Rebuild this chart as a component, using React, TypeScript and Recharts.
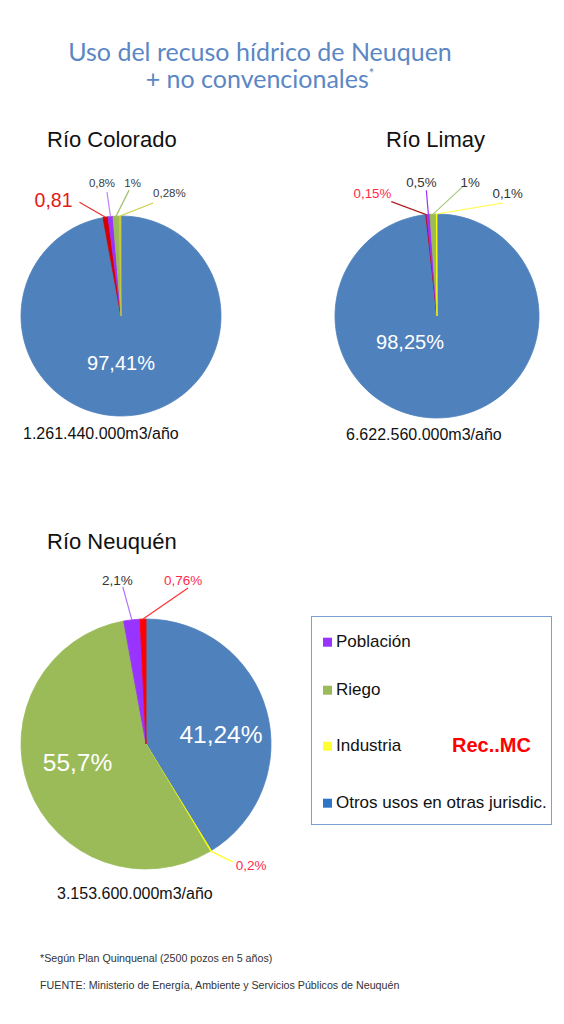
import React from 'react';
import { PieChart, Pie, Cell } from 'recharts';

// Datos (porcentajes de uso)
const coloradoNames = ['Otros usos en otras jurisdic.', 'No convencionales', 'Población', 'Riego', 'Industria'];
const coloradoValues = [97.41, 0.81, 0.8, 1, 0.28];
const coloradoLabels = ['97,41%', '0,81', '0,8%', '1%', '0,28%'];

const limayNames = ['Otros usos en otras jurisdic.', 'No convencionales', 'Población', 'Riego', 'Industria'];
const limayValues = [98.25, 0.15, 0.5, 1, 0.1];
const limayLabels = ['98,25%', '0,15%', '0,5%', '1%', '0,1%'];

const neuquenNames = ['Otros usos en otras jurisdic.', 'Industria', 'Riego', 'Población', 'No convencionales'];
const neuquenValues = [41.24, 0.2, 55.7, 2.1, 0.76];
const neuquenLabels = ['41,24%', '0,2%', '55,7%', '2,1%', '0,76%'];

const legendNames = ['Población', 'Riego', 'Industria', 'Otros usos en otras jurisdic.'];

const FONT = '"Liberation Sans", Arial, sans-serif';
const BLUE = '#4F81BD';
const GREEN = '#9BBB59';
const PURPLE = '#9933FF';

type LabelSpec =
  | { kind: 'in'; dx: number; dy: number; size: number; color: string }
  | {
      kind: 'out';
      lx: number;
      ly: number;
      tx: number;
      ty: number;
      anchor: 'start' | 'middle' | 'end';
      size: number;
      color: string;
      line: string;
    };

const RAD = Math.PI / 180;

function makeLabel(names: string[], texts: string[], specs: LabelSpec[]) {
  return (props: any) => {
    const { cx, cy, midAngle, outerRadius } = props;
    const i = typeof props.index === 'number' ? props.index : names.indexOf(props.name);
    const s = specs[i];
    const t = texts[i];
    if (!s) return null;
    if (s.kind === 'in') {
      return (
        <text x={cx + s.dx} y={cy + s.dy} textAnchor="middle" dominantBaseline="central"
          fill={s.color} fontSize={s.size} fontFamily={FONT}>
          {t}
        </text>
      );
    }
    // punto de anclaje en el borde de la porción
    const ax = cx + outerRadius * Math.cos(-midAngle * RAD);
    const ay = cy + outerRadius * Math.sin(-midAngle * RAD);
    const ex = ax + s.lx;
    const ey = ay + s.ly;
    return (
      <g>
        <line x1={ax} y1={ay} x2={ex} y2={ey} stroke={s.line} strokeWidth={1.2} />
        <text x={ex + s.tx} y={ey + s.ty} textAnchor={s.anchor} fill={s.color}
          fontSize={s.size} fontFamily={FONT}>
          {t}
        </text>
      </g>
    );
  };
}

const coloradoColors = [BLUE, '#D40000', PURPLE, GREEN, '#C8C83C'];
const coloradoSpecs: LabelSpec[] = [
  { kind: 'in', dx: 0, dy: 47, size: 20, color: '#FFFFFF' },
  { kind: 'out', lx: -26, ly: -15, tx: -7, ty: 5, anchor: 'end', size: 19.5, color: '#E01B1B', line: '#E03030' },
  { kind: 'out', lx: -3.5, ly: -24.5, tx: -5, ty: -5, anchor: 'middle', size: 11.5, color: '#404040', line: '#C080FF' },
  { kind: 'out', lx: 13, ly: -26, tx: 3.5, ty: -3, anchor: 'middle', size: 11.5, color: '#404040', line: '#A0C070' },
  { kind: 'out', lx: 33, ly: -13, tx: 0, ty: -6, anchor: 'start', size: 11.5, color: '#404040', line: '#CCCC44' },
];

const limayColors = [BLUE, '#C00000', PURPLE, GREEN, '#FFFF00'];
const limaySpecs: LabelSpec[] = [
  { kind: 'in', dx: -27, dy: 25.5, size: 20, color: '#FFFFFF' },
  { kind: 'out', lx: -35, ly: -13, tx: 0, ty: -4, anchor: 'end', size: 13.3, color: '#FF2A4A', line: '#B02020' },
  { kind: 'out', lx: -2, ly: -24, tx: -5, ty: -3, anchor: 'middle', size: 13.3, color: '#333333', line: PURPLE },
  { kind: 'out', lx: 29, ly: -27, tx: 8, ty: 0, anchor: 'middle', size: 13.3, color: '#333333', line: '#A8C880' },
  { kind: 'out', lx: 66, ly: -11, tx: 5, ty: -5, anchor: 'middle', size: 13.3, color: '#333333', line: '#FFFF40' },
];

const neuquenColors = [BLUE, '#FFFF00', GREEN, PURPLE, '#FF0000'];
const neuquenSpecs: LabelSpec[] = [
  { kind: 'in', dx: 75, dy: -9.5, size: 24.5, color: '#FFFFFF' },
  { kind: 'out', lx: 22, ly: 11, tx: 3, ty: 8, anchor: 'start', size: 13.5, color: '#FF2A4A', line: '#FFFF00' },
  { kind: 'in', dx: -68.5, dy: 18.5, size: 24.5, color: '#FFFFFF' },
  { kind: 'out', lx: -9, ly: -33, tx: -5.5, ty: -2, anchor: 'middle', size: 13.5, color: '#333333', line: '#B070FF' },
  { kind: 'out', lx: 45, ly: -31, tx: -5, ty: -3, anchor: 'middle', size: 13.5, color: '#FF2A4A', line: '#FF3030' },
];

const legendColors = [PURPLE, GREEN, '#FFFF33', '#2E75C8'];
const legendBaselines = [646.5, 694.5, 750.5, 807.5];

function RiverPie({ names, values, texts, colors, specs, left, top, width, height, cx, cy, r }: {
  names: string[]; values: number[]; texts: string[]; colors: string[]; specs: LabelSpec[];
  left: number; top: number; width: number; height: number; cx: number; cy: number; r: number;
}) {
  const data = names.map((name, i) => ({ name, value: values[i] }));
  return (
    <div style={{ position: 'absolute', left, top, width, height }}>
      <PieChart width={width} height={height} margin={{ top: 0, right: 0, bottom: 0, left: 0 }}>
        <Pie
          data={data}
          dataKey="value"
          nameKey="name"
          cx={cx}
          cy={cy}
          outerRadius={r}
          startAngle={90}
          endAngle={-270}
          isAnimationActive={false}
          labelLine={false}
          label={makeLabel(names, texts, specs)}
        >
          {data.map((d, i) => (
            <Cell key={d.name} fill={colors[i]} stroke={colors[i]} strokeWidth={0.8} />
          ))}
        </Pie>
      </PieChart>
    </div>
  );
}

export default function App() {
  return (
    <div style={{ position: 'absolute', left: 0, top: 0, width: 564, height: 1024, background: '#fff', fontFamily: FONT }}>
      <svg width={564} height={1024} style={{ position: 'absolute', left: 0, top: 0 }}>
        <text x={260} y={61} textAnchor="middle" fill="#5B87C4" fontSize={25} fontFamily="Lato, 'Open Sans', sans-serif">
          Uso del recuso hídrico de Neuquen
        </text>
        <text x={260} y={88} textAnchor="middle" fill="#5B87C4" fontSize={25} fontFamily="Lato, 'Open Sans', sans-serif">
          + no convencionales<tspan fontSize={13} dy={-10}>*</tspan>
        </text>

        <text x={47} y={147} fontSize={22} fill="#111">Río Colorado</text>
        <text x={386} y={147} fontSize={22} fill="#111">Río Limay</text>
        <text x={47} y={549} fontSize={22} fill="#111">Río Neuquén</text>

        <text x={23} y={439} fontSize={16} fill="#111">1.261.440.000m3/año</text>
        <text x={346} y={440} fontSize={16} fill="#111">6.622.560.000m3/año</text>
        <text x={57} y={899} fontSize={16} fill="#111">3.153.600.000m3/año</text>

        <rect x={311.5} y={616.5} width={240} height={208} fill="#fff" stroke="#7A9FD0" strokeWidth={1} />
        {legendNames.map((n, i) => (
          <g key={n}>
            <rect x={323} y={legendBaselines[i] - 8.8} width={9} height={9} fill={legendColors[i]} />
            <text x={336} y={legendBaselines[i]} fontSize={17} fill="#111">{n}</text>
          </g>
        ))}
        <text x={452} y={752} fontSize={20} fontWeight="bold" fill="#FF0000">Rec..MC</text>

        <text x={40} y={962} fontSize={10.7} fill="#333">*Según Plan Quinquenal (2500 pozos en 5 años)</text>
        <text x={40} y={989} fontSize={10.7} fill="#333">FUENTE: Ministerio de Energía, Ambiente y Servicios Públicos de Neuquén</text>
      </svg>

      <RiverPie names={coloradoNames} values={coloradoValues} texts={coloradoLabels} colors={coloradoColors}
        specs={coloradoSpecs} left={0} top={155} width={260} height={265} cx={121} cy={161} r={100} />
      <RiverPie names={limayNames} values={limayValues} texts={limayLabels} colors={limayColors}
        specs={limaySpecs} left={300} top={155} width={264} height={265} cx={137} cy={161} r={102} />
      <RiverPie names={neuquenNames} values={neuquenValues} texts={neuquenLabels} colors={neuquenColors}
        specs={neuquenSpecs} left={0} top={555} width={300} height={330} cx={146} cy={189} r={125} />
    </div>
  );
}
